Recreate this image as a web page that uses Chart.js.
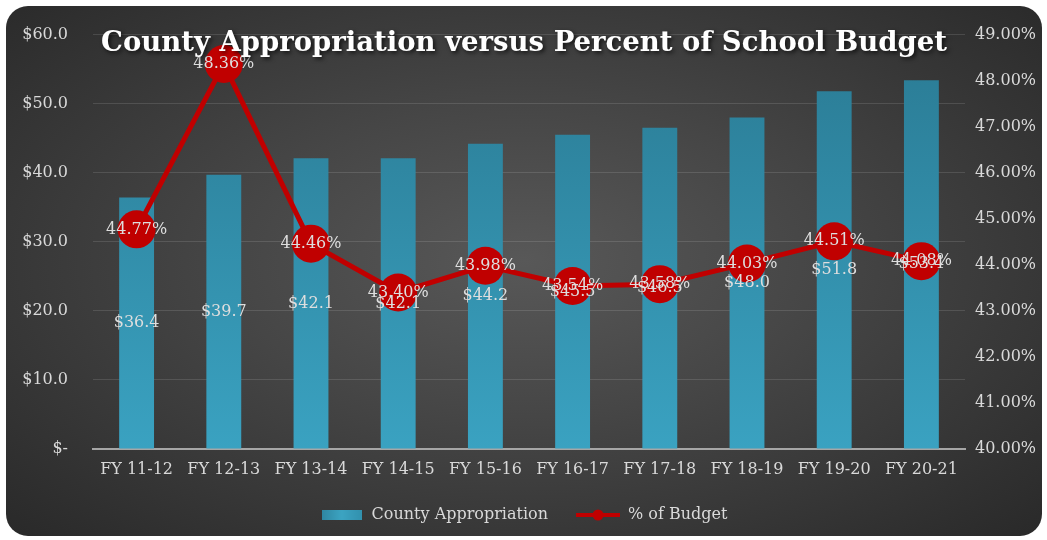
<!DOCTYPE html>
<html>
<head>
<meta charset="utf-8">
<script src="https://cdn.jsdelivr.net/npm/chart.js@4.4.1/dist/chart.umd.min.js"></script>
<style>
  html, body { margin: 0; padding: 0; background: #fff; }
  #wrap { position: relative; width: 1047px; height: 540px; overflow: hidden; }
  #bg {
    position: absolute; left: 6px; top: 6px; width: 1036px; height: 530px;
    border-radius: 22px;
    background: radial-gradient(ellipse at 50% 48%, #585858 0%, #464646 40%, #292929 100%);
  }
  #myChart { position: absolute; left: 0; top: 0; }
</style>
</head>
<body>
<div id="wrap">
  <div id="bg"></div>
  <canvas id="myChart" width="1047" height="540"></canvas>
</div>
<script>
const categories = ['FY 11-12', 'FY 12-13', 'FY 13-14', 'FY 14-15', 'FY 15-16',
                    'FY 16-17', 'FY 17-18', 'FY 18-19', 'FY 19-20', 'FY 20-21'];
const appropriation = [36.4, 39.7, 42.1, 42.1, 44.2, 45.5, 46.5, 48.0, 51.8, 53.4];
const percentOfBudget = [44.77, 48.36, 44.46, 43.40, 43.98, 43.54, 43.58, 44.03, 44.51, 44.08];
const seriesNames = ['County Appropriation', '% of Budget'];
const chartTitle = 'County Appropriation versus Percent of School Budget';

const SERIF = '"DejaVu Serif", "Liberation Serif", serif';
const TEXT = '#d9d9d9';
const RED = '#c00000';

function dollar(v) { return v === 0 ? '$-' : '$' + Number(v).toFixed(1); }
function pct(v) { return Number(v).toFixed(2) + '%'; }

// legend icons
const barIcon = document.createElement('canvas');
barIcon.width = 40; barIcon.height = 10;
(function () {
  const c = barIcon.getContext('2d');
  const g = c.createLinearGradient(0, 0, 40, 0);
  g.addColorStop(0, '#2f86a1'); g.addColorStop(0.5, '#3ca4c2'); g.addColorStop(1, '#3291ae');
  c.fillStyle = g; c.fillRect(0, 0, 40, 10);
})();
const lineIcon = document.createElement('canvas');
lineIcon.width = 44; lineIcon.height = 12;
(function () {
  const c = lineIcon.getContext('2d');
  c.strokeStyle = RED; c.lineWidth = 4;
  c.beginPath(); c.moveTo(0, 6); c.lineTo(44, 6); c.stroke();
  c.fillStyle = RED; c.beginPath(); c.arc(22, 6, 5.5, 0, Math.PI * 2); c.fill();
})();
const legendIcons = [barIcon, lineIcon];

const valueLabels = {
  id: 'valueLabels',
  afterDatasetsDraw(chart) {
    const ctx = chart.ctx;
    ctx.save();
    ctx.font = '16px ' + SERIF;
    ctx.fillStyle = '#dedede';
    ctx.textAlign = 'center';
    ctx.textBaseline = 'middle';
    chart.data.datasets.forEach(function (ds, i) {
      const meta = chart.getDatasetMeta(i);
      meta.data.forEach(function (el, j) {
        if (ds.type === 'bar') {
          ctx.fillText(dollar(ds.data[j]), el.x, (el.y + el.base) / 2);
        } else {
          ctx.fillText(pct(ds.data[j]), el.x, el.y);
        }
      });
    });
    ctx.restore();
  },
  afterDraw(chart) {
    const ctx = chart.ctx;
    ctx.save();
    ctx.font = 'bold 27.5px ' + SERIF;
    ctx.fillStyle = '#ffffff';
    ctx.textAlign = 'center';
    ctx.textBaseline = 'middle';
    ctx.shadowColor = 'rgba(0,0,0,0.7)';
    ctx.shadowBlur = 4;
    ctx.shadowOffsetX = 2;
    ctx.shadowOffsetY = 2;
    ctx.fillText(chartTitle, 524, 44);
    ctx.restore();
  }
};

const ctx = document.getElementById('myChart');
new Chart(ctx, {
  type: 'bar',
  data: {
    labels: categories,
    datasets: [{
      type: 'bar',
      label: seriesNames[0],
      data: appropriation,
      yAxisID: 'y',
      order: 1,
      barPercentage: 0.5,
      categoryPercentage: 0.8,
      backgroundColor: function (c) {
        const area = c.chart.chartArea;
        if (!area) return '#3291ae';
        const g = c.chart.ctx.createLinearGradient(0, area.top, 0, area.bottom);
        g.addColorStop(0, '#2a7a93');
        g.addColorStop(1, '#3aa2c1');
        return g;
      }
    }, {
      type: 'line',
      label: seriesNames[1],
      data: percentOfBudget,
      yAxisID: 'y1',
      order: 0,
      borderColor: RED,
      backgroundColor: RED,
      borderWidth: 5,
      pointRadius: 19,
      pointBorderWidth: 0,
      pointBackgroundColor: RED,
      tension: 0
    }]
  },
  options: {
    responsive: false,
    animation: false,
    layout: { padding: { top: 30, left: 0, right: 0, bottom: 7 } },
    plugins: {
      tooltip: { enabled: false },
      legend: {
        position: 'bottom',
        labels: {
          color: TEXT,
          font: { family: SERIF, size: 16 },
          usePointStyle: true,
          pointStyleWidth: 44,
          padding: 28,
          sort: function (a, b) { return a.datasetIndex - b.datasetIndex; },
          generateLabels: function (chart) {
            const items = Chart.defaults.plugins.legend.labels.generateLabels(chart);
            items.forEach(function (it) { it.pointStyle = legendIcons[it.datasetIndex]; });
            return items;
          }
        }
      }
    },
    scales: {
      x: {
        grid: { display: false, drawTicks: false },
        border: { display: true, color: '#a6a6a6', width: 2 },
        ticks: { color: TEXT, font: { family: SERIF, size: 16 }, padding: 11, maxRotation: 0 },
        afterFit: function (s) { s.height = 30; }
      },
      y: {
        position: 'left',
        min: 0, max: 60,
        ticks: { stepSize: 10, color: TEXT, font: { family: SERIF, size: 16 }, padding: 25, callback: dollar },
        grid: { color: 'rgba(255,255,255,0.12)', drawTicks: false },
        border: { display: false },
        afterFit: function (s) { s.width = 93; }
      },
      y1: {
        position: 'right',
        min: 40, max: 49,
        ticks: { stepSize: 1, color: TEXT, font: { family: SERIF, size: 16 }, padding: 10, callback: pct },
        grid: { display: false, drawTicks: false },
        border: { display: false },
        afterFit: function (s) { s.width = 82; }
      }
    }
  },
  plugins: [valueLabels]
});
</script>
</body>
</html>
